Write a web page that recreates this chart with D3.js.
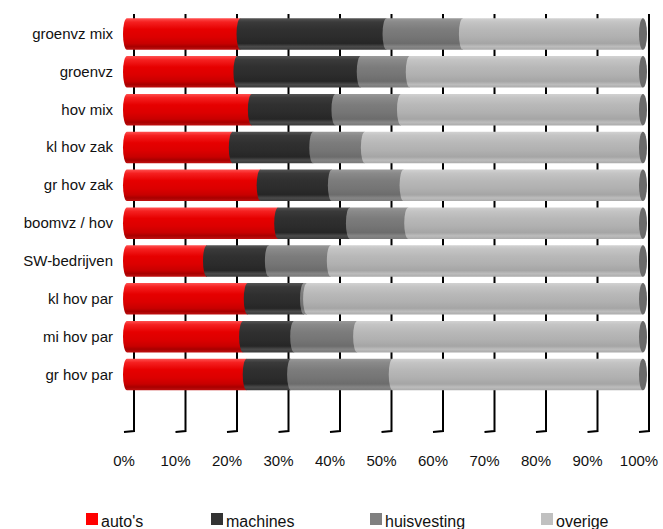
<!DOCTYPE html>
<html>
<head>
<meta charset="utf-8">
<script src="https://cdn.jsdelivr.net/npm/d3@7"></script>
<style>
  body { margin: 0; background: #fff; }
  text { font-family: "Liberation Sans", Arial, sans-serif; fill: #111; }
</style>
</head>
<body>
<div id="chart"></div>
<script>
// categories (top to bottom) and percentage shares per series
var categories = ["groenvz mix", "groenvz", "hov mix", "kl hov zak", "gr hov zak",
                  "boomvz / hov", "SW-bedrijven", "kl hov par", "mi hov par", "gr hov par"];
var seriesNames = ["auto's", "machines", "huisvesting", "overige"];
var autos       = [22.0, 21.4, 24.2, 20.5, 25.9, 29.3, 15.5, 23.4, 22.5, 23.2];
var machines    = [28.3, 23.9, 16.2, 15.6, 13.8, 13.9, 12.0, 10.9,  9.9,  8.6];
var huisvesting = [14.8,  9.5, 12.7, 10.0, 13.9, 11.3, 12.0,  0.6, 12.2, 19.7];
var overige     = [34.9, 45.2, 46.9, 53.9, 46.4, 45.5, 60.5, 65.1, 55.4, 48.5];
var tickValues  = [0, 0.1, 0.2, 0.3, 0.4, 0.5, 0.6, 0.7, 0.8, 0.9, 1];

var width = 663, height = 529;

var svg = d3.select("#chart").append("svg")
    .attr("width", width)
    .attr("height", height);

// gradient colours per series, top to bottom - banded cylinder look
var shades = {
  "auto's":      ["#ff5050", "#f52020", "#e60000", "#dc0000", "#c80000", "#a80000", "#c01010"],
  "machines":    ["#555555", "#3a3a3a", "#303030", "#2c2c2c", "#262626", "#4a4a4a", "#3a3a3a"],
  "huisvesting": ["#9a9a9a", "#8a8a8a", "#7c7c7c", "#757575", "#6c6c6c", "#858585", "#7a7a7a"],
  "overige":     ["#d2d2d2", "#c4c4c4", "#b8b8b8", "#b0b0b0", "#a5a5a5", "#bcbcbc", "#ababab"]
};
var legendColors = {"auto's": "#ff0000", "machines": "#333333", "huisvesting": "#808080", "overige": "#c0c0c0"};
var offs = [0, 0.12, 0.35, 0.6, 0.8, 0.9, 1];

var defs = svg.append("defs");
seriesNames.forEach(function (s, i) {
  var g = defs.append("linearGradient")
      .attr("id", "grad" + i)
      .attr("x1", 0).attr("y1", 0).attr("x2", 0).attr("y2", 1);
  shades[s].forEach(function (c, j) {
    g.append("stop").attr("offset", offs[j]).attr("stop-color", c);
  });
});

// front plane scale (bars) and back wall scale (gridlines)
var x = d3.scaleLinear().domain([0, 1]).range([127, 643]);
var xBack = d3.scaleLinear().domain([0, 1]).range([134, 649]);

var y = d3.scaleBand()
    .domain(categories)
    .range([15.1, 393.4])
    .paddingInner(0.167)
    .paddingOuter(0.083);

// gridlines with little floor foot
var grid = svg.append("g");
tickValues.forEach(function (t) {
  grid.append("path")
      .attr("d", "M" + xBack(t) + ",14 L" + xBack(t) + ",431 L" + (xBack(t) - 10) + ",432")
      .attr("fill", "none")
      .attr("stroke", "#000")
      .attr("stroke-width", 2);
});

// tick labels
svg.append("g").selectAll("text")
    .data(tickValues)
    .enter()
    .append("text")
    .attr("x", function (d) { return xBack(d) - 10; })
    .attr("y", 466)
    .attr("text-anchor", "middle")
    .style("font-size", "15px")
    .text(d3.format(".0%"));

// category labels
svg.append("g").selectAll("text")
    .data(categories)
    .enter()
    .append("text")
    .attr("x", 113)
    .attr("y", function (d) { return y(d) + y.bandwidth() / 2 + 5; })
    .attr("text-anchor", "end")
    .style("font-size", "15px")
    .text(function (d) { return d; });

// stacked data
var rows = categories.map(function (c, i) {
  return {cat: c, "auto's": autos[i], "machines": machines[i],
          "huisvesting": huisvesting[i], "overige": overige[i]};
});
var stack = d3.stack().keys(seriesNames).offset(d3.stackOffsetExpand);
var layers = stack(rows);

var rx = 4;
function segPath(x0, x1, top, h) {
  var r = h / 2;
  return "M" + x0 + "," + top +
         " L" + x1 + "," + top +
         " L" + x1 + "," + (top + h) +
         " L" + x0 + "," + (top + h) +
         " A" + rx + "," + r + " 0 0 1 " + x0 + "," + top + " Z";
}

var bars = svg.append("g");
layers.forEach(function (layer, i) {
  bars.append("g")
    .selectAll("path")
    .data(layer)
    .enter()
    .append("path")
    .attr("d", function (d) {
      return segPath(x(d[0]), x(d[1]), y(d.data.cat), y.bandwidth());
    })
    .attr("fill", "url(#grad" + i + ")");
});

// right end caps
bars.append("g").selectAll("ellipse")
    .data(layers[layers.length - 1])
    .enter()
    .append("ellipse")
    .attr("cx", function (d) { return x(d[1]); })
    .attr("cy", function (d) { return y(d.data.cat) + y.bandwidth() / 2; })
    .attr("rx", rx)
    .attr("ry", y.bandwidth() / 2)
    .attr("fill", "#6a6a6a");

// legend
var legendX = [86, 211, 370, 541];
var legend = svg.append("g");
seriesNames.forEach(function (s, i) {
  legend.append("rect")
      .attr("x", legendX[i])
      .attr("y", 513)
      .attr("width", 12)
      .attr("height", 12)
      .attr("fill", legendColors[s]);
  legend.append("text")
      .attr("x", legendX[i] + 15)
      .attr("y", 527)
      .style("font-size", "16px")
      .text(s);
});
</script>
</body>
</html>
